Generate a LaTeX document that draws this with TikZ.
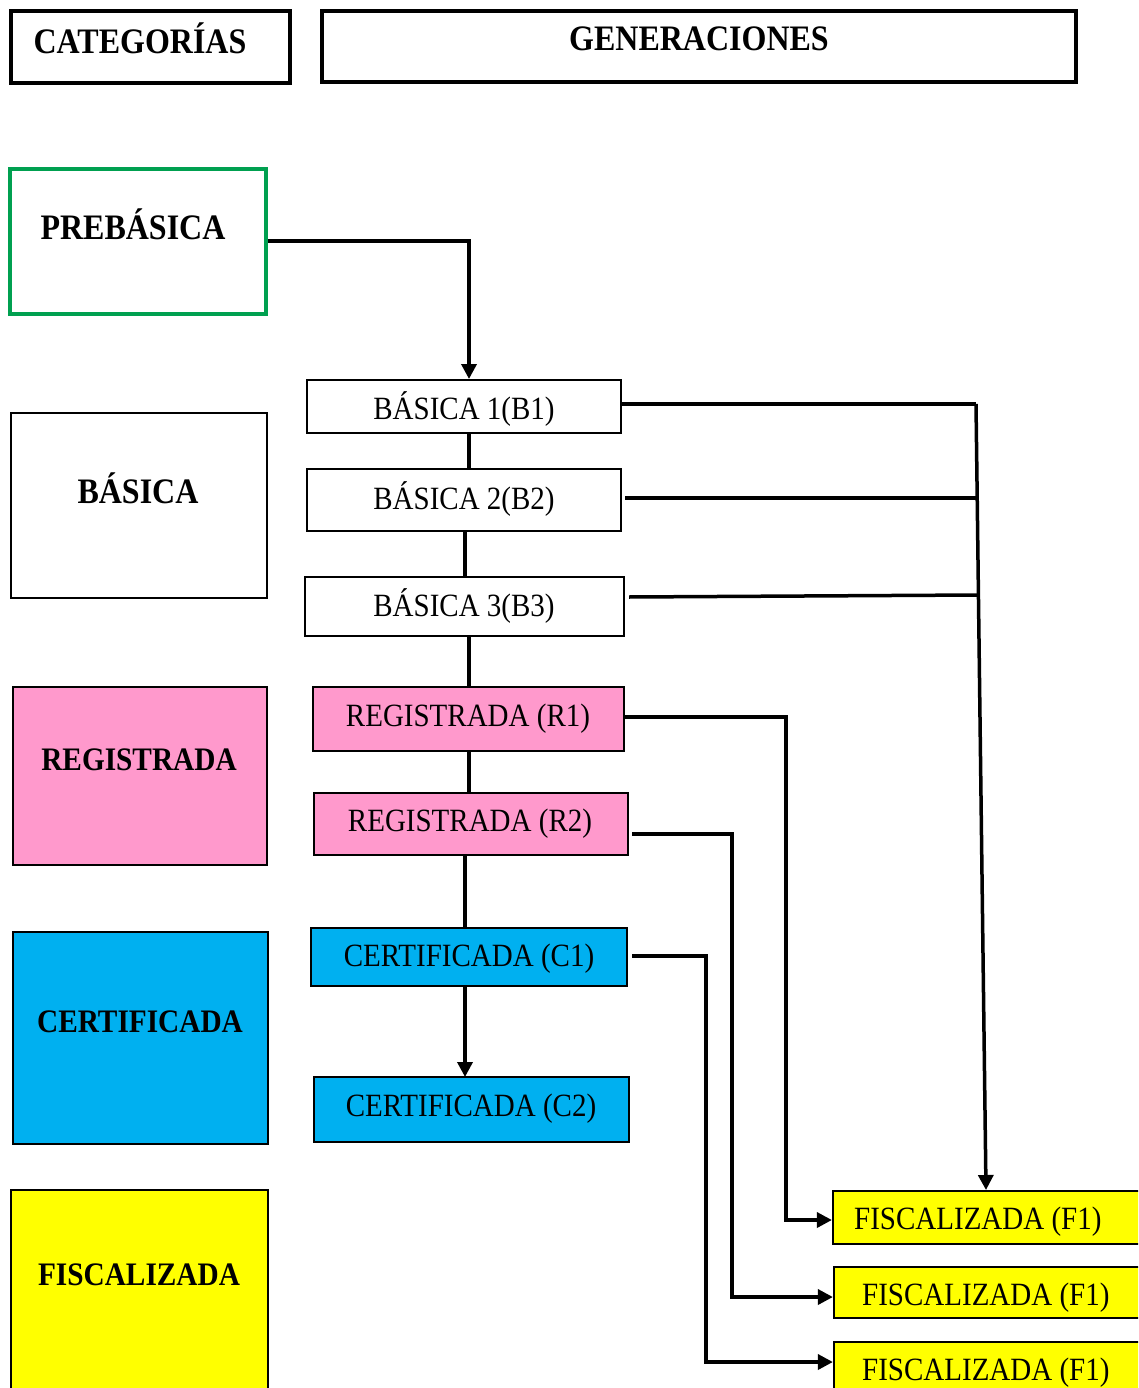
\documentclass[tikz,border=0pt]{standalone}
\usepackage{fontspec}
\setmainfont{Liberation Serif}
\usetikzlibrary{arrows.meta}
\definecolor{pinkc}{HTML}{FF99CC}
\definecolor{cyanc}{HTML}{00B0F0}
\definecolor{yellowc}{HTML}{FFFF00}
\definecolor{greenc}{HTML}{00A050}
\newcommand\vst[1]{\scalebox{1}[1.12]{#1}}
\tikzset{
  box/.style={draw=black, line width=2.2pt, inner sep=0pt},
  hbox/.style={draw=black, line width=3.8pt, inner sep=0pt},
  cattxt/.style={font=\fontsize{32}{32}\selectfont\bfseries, inner sep=0pt},
  cattxts/.style={font=\fontsize{29.3}{29.3}\selectfont\bfseries, inner sep=0pt},
  gentxt/.style={font=\fontsize{29}{29}\selectfont, inner sep=0pt},
  conn/.style={line width=3.5pt},
  arr/.style={line width=3.5pt, -{Triangle[length=15pt,width=15pt]}}
}
\begin{document}
\begin{tikzpicture}[x=1pt,y=-1pt]
\useasboundingbox (0,0) rectangle (1138,1388);
\clip (0,0) rectangle (1138,1388);
% header
\node[hbox, minimum width=279pt, minimum height=72pt] (cat) at (150.5,47) {};
\node[cattxt] (cattext) at (140,38) {\vst{CATEGORÍAS}};
\node[hbox, minimum width=754pt, minimum height=71pt] (gen) at (699,46.5) {};
\node[cattxt] (gentext) at (699,39) {\vst{GENERACIONES}};
% categories
\node[box, draw=greenc, line width=3.8pt, minimum width=256pt, minimum height=145pt] (pre) at (138,241.5) {};
\node[cattxt] (pretext) at (133,224) {\vst{PREBÁSICA}};
\node[box, minimum width=256pt, minimum height=185pt] (bas) at (139,505.5) {};
\node[cattxt] (bastext) at (138,488.5) {\vst{BÁSICA}};
\node[box, fill=pinkc, minimum width=254pt, minimum height=178pt] (reg) at (140,776) {};
\node[cattxts] (regtext) at (139,760) {\vst{REGISTRADA}};
\node[box, fill=cyanc, minimum width=255pt, minimum height=212pt] (cer) at (140.5,1038) {};
\node[cattxts] (certext) at (140,1022) {\vst{CERTIFICADA}};
\node[box, fill=yellowc, minimum width=257pt, minimum height=210pt] (fis) at (139.5,1295) {};
\node[cattxts] (fistext) at (139,1275) {\vst{FISCALIZADA}};
% generations
\node[box, minimum width=314pt, minimum height=53pt] (b1) at (464,406.5) {};
\node[gentxt] (b1t) at (464,409) {\vst{BÁSICA 1(B1)}};
\node[box, minimum width=314pt, minimum height=62pt] (b2) at (464,500) {};
\node[gentxt] (b2t) at (464,499.5) {\vst{BÁSICA 2(B2)}};
\node[box, minimum width=319pt, minimum height=59pt] (b3) at (464.5,606.5) {};
\node[gentxt] (b3t) at (464,606.5) {\vst{BÁSICA 3(B3)}};
\node[box, fill=pinkc, minimum width=311pt, minimum height=64pt] (r1) at (468.5,719) {};
\node[gentxt] (r1t) at (468,718.5) {\vst{REGISTRADA (R1)}};
\node[box, fill=pinkc, minimum width=314pt, minimum height=62pt] (r2) at (471,824) {};
\node[gentxt] (r2t) at (470,823.5) {\vst{REGISTRADA (R2)}};
\node[box, fill=cyanc, minimum width=316pt, minimum height=58pt] (c1) at (469,957) {};
\node[gentxt] (c1t) at (469,958.5) {\vst{CERTIFICADA (C1)}};
\node[box, fill=cyanc, minimum width=315pt, minimum height=65pt] (c2) at (471.5,1109.5) {};
\node[gentxt] (c2t) at (471,1108.5) {\vst{CERTIFICADA (C2)}};
\node[box, fill=yellowc, minimum width=312pt, minimum height=53pt] (f1a) at (989,1217.5) {};
\node[gentxt, anchor=west] (f1at) at (854,1221.5) {\vst{FISCALIZADA (F1)}};
\node[box, fill=yellowc, minimum width=311pt, minimum height=51pt] (f1b) at (989.5,1292.5) {};
\node[gentxt, anchor=west] (f1bt) at (862,1297.5) {\vst{FISCALIZADA (F1)}};
\node[box, fill=yellowc, minimum width=311pt, minimum height=58pt] (f1c) at (989.5,1371) {};
\node[gentxt, anchor=west] (f1ct) at (862,1372.5) {\vst{FISCALIZADA (F1)}};
% coordinates
\coordinate (p1) at (469,241);
\coordinate (b1top) at (469,379);
\coordinate (bus1) at (976,404);
\coordinate (bus2) at (977,498);
\coordinate (bus3) at (978,595);
\coordinate (fatop) at (986,1190);
% connectors
\draw[arr] (pre.east |- p1) -- (p1) -- (b1top);
\draw[conn] (469,433) coordinate (s1) -- (469,469) coordinate (e1);
\draw[conn] (465,531) coordinate (s2) -- (465,577) coordinate (e2);
\draw[conn] (469,636) coordinate (s3) -- (469,687) coordinate (e3);
\draw[conn] (469,751) coordinate (s4) -- (469,793) coordinate (e4);
\draw[conn] (465,855) coordinate (s5) -- (465,928) coordinate (e5);
\draw[arr] (465,986) coordinate (s6) -- (465,1077) coordinate (e6);
\draw[conn] (b1.east |- bus1) -- (bus1);
\draw[conn] (625,498) coordinate (s7) -- (bus2);
\draw[conn] (629,597) coordinate (s8) -- (bus3);
\draw[arr] (bus1) -- (fatop);
\draw[arr] (r1.east |- 0,717) -- (786,717) |- (f1a.west |- 0,1220);
\draw[arr] (632,834) coordinate (s9) -- (732,834) |- (f1b.west |- 0,1297);
\draw[arr] (632,956) coordinate (s10) -- (706,956) |- (f1c.west |- 0,1362);
\end{tikzpicture}
\end{document}
